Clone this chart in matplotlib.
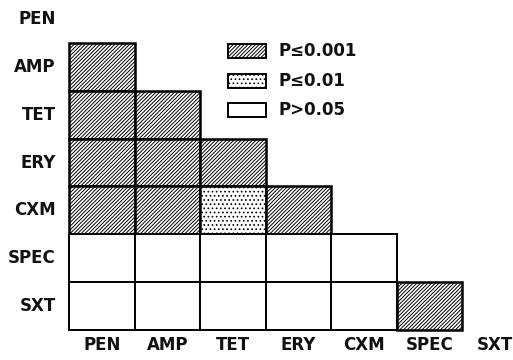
import matplotlib
matplotlib.use("Agg")
import matplotlib.pyplot as plt
from matplotlib.patches import Rectangle

# drugs on both axes
drugs = ["PEN", "AMP", "TET", "ERY", "CXM", "SPEC", "SXT"]

# significance level for each pair, lower triangle, row by row (PEN row is empty)
sig_rows = [
    [],
    ["p001"],
    ["p001", "p001"],
    ["p001", "p001", "p001"],
    ["p001", "p001", "p01", "p001"],
    ["ns", "ns", "ns", "ns", "ns"],
    ["ns", "ns", "ns", "ns", "ns", "p001"],
]

legend_keys = ["p001", "p01", "ns"]
legend_labels = ["P\u22640.001", "P\u22640.01", "P>0.05"]

hatches = {"p001": "/" * 9, "p01": "....", "ns": ""}
edge_widths = {"p001": 1.8, "p01": 1.8, "ns": 1.4}

plt.rcParams["hatch.linewidth"] = 0.7
plt.rcParams["font.family"] = "DejaVu Sans"

fig = plt.figure(figsize=(5.13, 3.6), dpi=100)
ax = fig.add_axes([0, 0, 1, 1])
ax.set_xlim(-69 / 65.5, 444 / 65.5)
ax.set_ylim(7.63, 0.1)
ax.axis("off")

# cells
for i, row in enumerate(sig_rows):
    for j, level in enumerate(row):
        ax.add_patch(Rectangle((j, i), 1, 1, facecolor="white", edgecolor="black",
                               hatch=hatches[level], linewidth=edge_widths[level]))

# labels
for i, name in enumerate(drugs):
    ax.text(-0.2, i + 0.5, name, ha="right", va="center", fontsize=12,
            fontweight="bold", color="#111111")
    ax.text(i + 0.5, 7.32, name, ha="center", va="center", fontsize=12,
            fontweight="bold", color="#111111")

# legend boxes
lx = (228 - 69) / 65.5
lw = 38 / 65.5
for k, (key, lab) in enumerate(zip(legend_keys, legend_labels)):
    top = (44 + 4.8 + k * 29.5) / 47.8
    ax.add_patch(Rectangle((lx, top), lw, 14 / 47.8, facecolor="white",
                           edgecolor="black", hatch=hatches[key], linewidth=1.4))
    ax.text(lx + lw + 12 / 65.5, top + 7 / 47.8, lab, ha="left", va="center",
            fontsize=12, fontweight="bold", color="#111111")

fig.savefig("out.png", dpi=100)
